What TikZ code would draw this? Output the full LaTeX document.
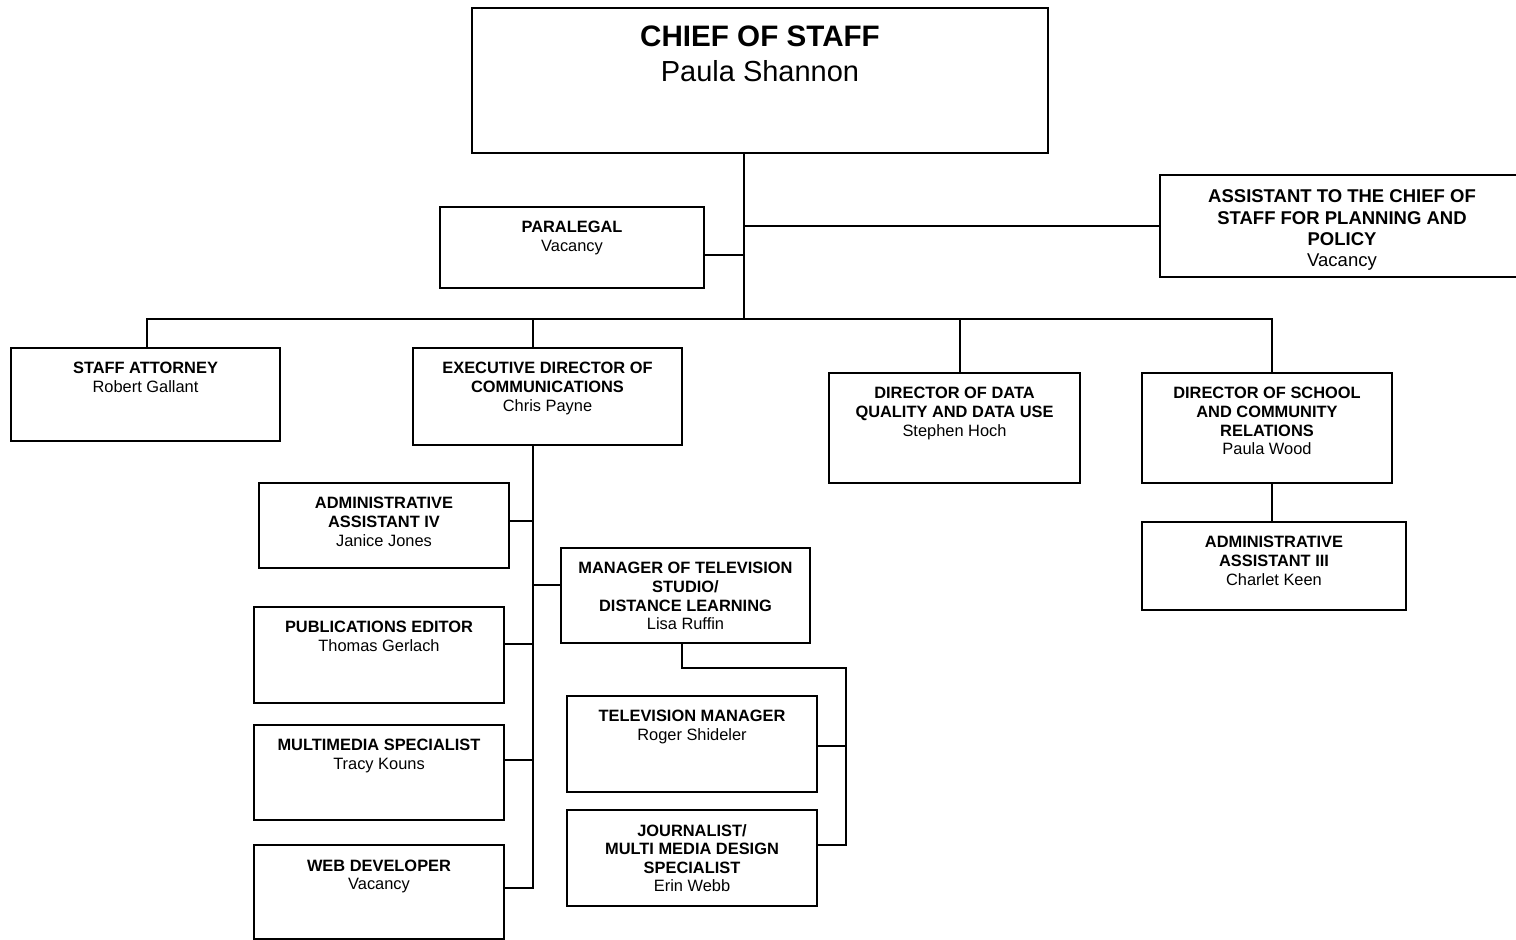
\documentclass[tikz,border=0pt]{standalone}
\usepackage{fontspec}
\setmainfont{Liberation Sans}
\newcommand\smf{\fontsize{8.2pt}{9.3pt}\selectfont}
\newcommand\orgbox[6]{%
  \node[box] (#1) at (#2,#3) {\parbox[t][\dimexpr(#5pt-#3pt)/2\relax][t]{\dimexpr(#4pt-#2pt)/2\relax}{\centering #6}};}
\tikzset{
  box/.style={draw, line width=1pt, inner sep=0pt, outer sep=0pt, anchor=north west},
  conn/.style={line width=1pt}
}
\begin{document}
\begin{tikzpicture}[x=0.5pt,y=-0.5pt]
\path[fill=white,use as bounding box] (0,0) rectangle (1516,940);

% boxes
\orgbox{chief}{472}{8}{1048}{153}{\fontsize{14.8pt}{17.5pt}\selectfont\rule{0pt}{19.3pt}\bfseries CHIEF OF STAFF\\\fontsize{14.5pt}{17.5pt}\selectfont\mdseries Paula Shannon}
\orgbox{para}{440}{207}{704}{288}{\smf\rule{0pt}{13pt}{\bfseries PARALEGAL}\\Vacancy}
\orgbox{asst}{1160}{175}{1524}{277}{\fontsize{9.25pt}{10.6pt}\selectfont\rule{0pt}{14pt}{\bfseries ASSISTANT TO THE CHIEF OF\\STAFF FOR PLANNING AND\\POLICY}\\Vacancy}
\orgbox{sa}{11}{348}{280}{441}{\smf\rule{0pt}{13pt}{\bfseries STAFF ATTORNEY}\\Robert Gallant}
\orgbox{exec}{413}{348}{682}{445}{\smf\rule{0pt}{13pt}{\bfseries EXECUTIVE DIRECTOR OF\\COMMUNICATIONS}\\Chris Payne}
\orgbox{data}{829}{373}{1080}{483}{\smf\rule{0pt}{13pt}{\bfseries DIRECTOR OF DATA\\QUALITY AND DATA USE}\\Stephen Hoch}
\orgbox{school}{1142}{373}{1392}{483}{\smf\rule{0pt}{13pt}{\bfseries DIRECTOR OF SCHOOL\\AND COMMUNITY\\RELATIONS}\\Paula Wood}
\orgbox{aathree}{1142}{522}{1406}{610}{\smf\rule{0pt}{13pt}{\bfseries ADMINISTRATIVE\\ASSISTANT III}\\Charlet Keen}
\orgbox{aafour}{259}{483}{509}{568}{\smf\rule{0pt}{13pt}{\bfseries ADMINISTRATIVE\\ASSISTANT IV}\\Janice Jones}
\orgbox{mgr}{561}{548}{810}{643}{\smf\rule{0pt}{13pt}{\bfseries MANAGER OF TELEVISION\\STUDIO/\\DISTANCE LEARNING}\\Lisa Ruffin}
\orgbox{pub}{254}{607}{504}{703}{\smf\rule{0pt}{13pt}{\bfseries PUBLICATIONS EDITOR}\\Thomas Gerlach}
\orgbox{multi}{254}{725}{504}{820}{\smf\rule{0pt}{13pt}{\bfseries MULTIMEDIA SPECIALIST}\\Tracy Kouns}
\orgbox{web}{254}{845}{504}{939}{\smf\rule{0pt}{13pt}{\bfseries WEB DEVELOPER}\\Vacancy}
\orgbox{tvm}{567}{696}{817}{792}{\smf\rule{0pt}{13pt}{\bfseries TELEVISION MANAGER}\\Roger Shideler}
\orgbox{jour}{567}{810}{817}{906}{\smf\rule{0pt}{13pt}{\bfseries JOURNALIST/\\MULTI MEDIA DESIGN\\SPECIALIST}\\Erin Webb}

% junction coordinates
\coordinate (jc) at (744,319);
\coordinate (jp) at (744,255);
\coordinate (ja) at (744,226);
\coordinate (bl) at (147,319);
\coordinate (be) at (533,319);
\coordinate (bd) at (960,319);
\coordinate (br) at (1272,319);
\coordinate (ev) at (533,888);
\coordinate (e1) at (534,521);
\coordinate (e2) at (533,585);
\coordinate (e3) at (534,644);
\coordinate (e4) at (534,760);
\coordinate (e5) at (534,888);
\coordinate (m1) at (682,668);
\coordinate (m2) at (846,668);
\coordinate (m3) at (846,845);
\coordinate (m4) at (846,746);

% connectors
\draw[conn] (chief.south -| jc) -- (jc);
\draw[conn] (para.east |- jp) -- (jp);
\draw[conn] (ja) -- (asst.west |- ja);
\draw[conn] (sa.north -| bl) -- (bl) -- (br) -- (school.north -| br);
\draw[conn] (be) -- (exec.north -| be);
\draw[conn] (bd) -- (data.north -| bd);
\draw[conn] (school.south -| br) -- (aathree.north -| br);
\draw[conn] (exec.south -| ev) -- (ev);
\draw[conn] (aafour.east |- e1) -- (e1);
\draw[conn] (e2) -- (mgr.west |- e2);
\draw[conn] (pub.east |- e3) -- (e3);
\draw[conn] (multi.east |- e4) -- (e4);
\draw[conn] (web.east |- e5) -- (e5);
\draw[conn] (mgr.south -| m1) -- (m1) -- (m2) -- (m3) -- (jour.east |- m3);
\draw[conn] (tvm.east |- m4) -- (m4);
\end{tikzpicture}
\end{document}
